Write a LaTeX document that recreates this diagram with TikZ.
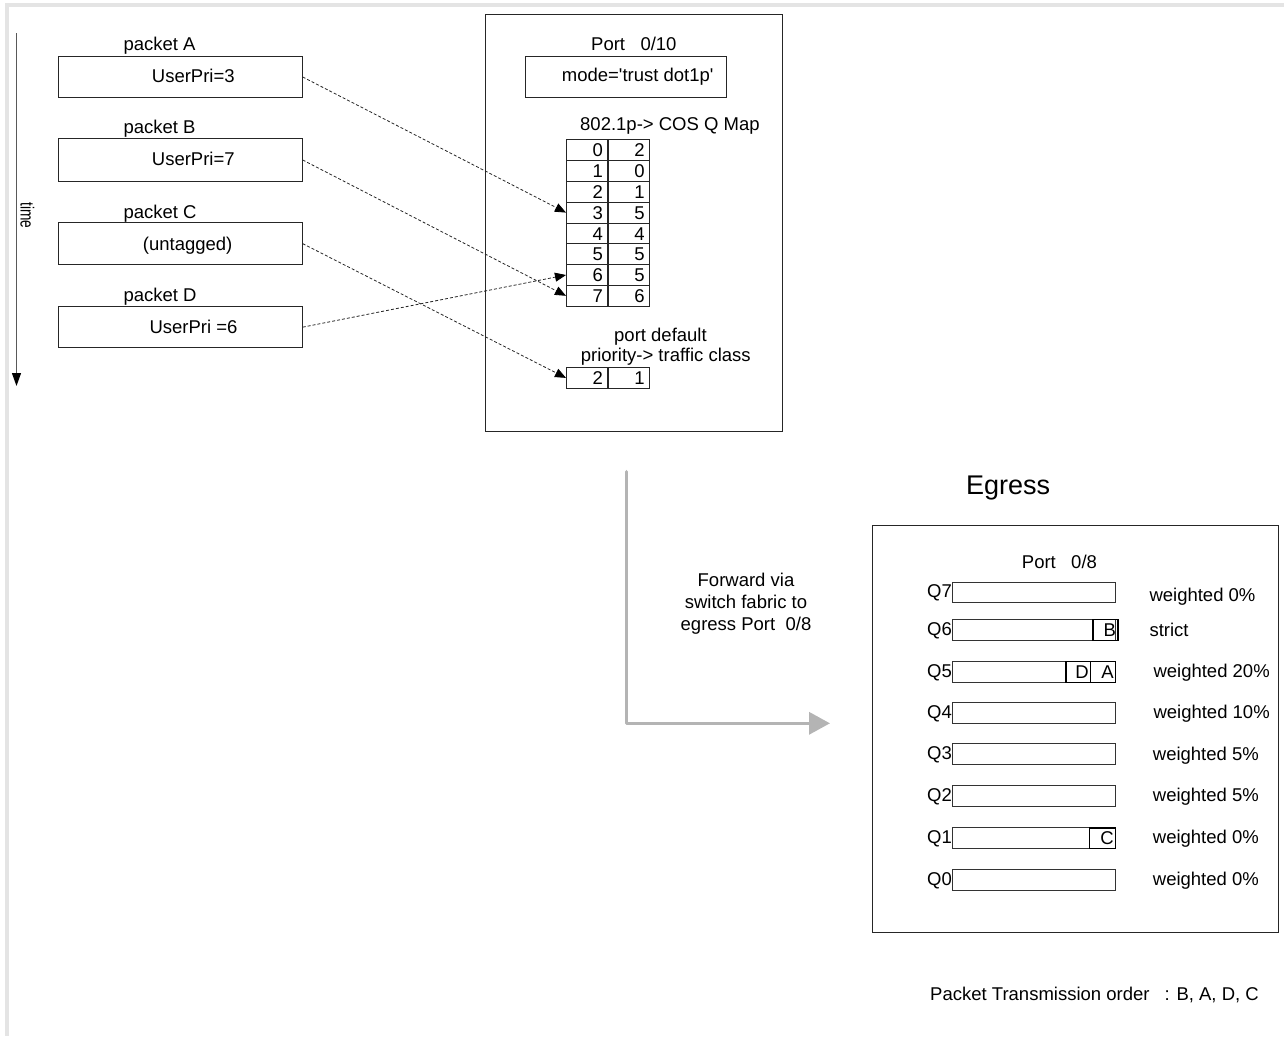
\documentclass[tikz,border=0pt]{standalone}
\usepackage{fontspec}
\setmainfont{Liberation Sans}[Ligatures=TeXOff]
\usetikzlibrary{arrows.meta}
\definecolor{garrow}{RGB}{180,180,180}
\definecolor{frame}{RGB}{228,228,228}
\begin{document}
\begin{tikzpicture}[x=1pt,y=-1pt,
  txt/.style={inner sep=0pt, font=\fontsize{18.5}{22}\selectfont},
  box/.style={draw=black!85, line width=1pt, inner sep=0pt},
  cell/.style={box, inner xsep=4.4pt, inner ysep=0pt, text width=32pt, align=right,
    minimum height=20.8pt, font=\fontsize{18.5}{22}\selectfont, text height=13.3pt, text depth=0pt},
  qbar/.style={draw=black!80, line width=0.9pt, inner sep=0pt, minimum width=163pt, minimum height=20.6pt, anchor=north west},
  qbox/.style={draw=black, line width=1.3pt, inner xsep=2pt, inner ysep=0pt, align=right,
    minimum height=20.6pt, font=\fontsize{18.5}{22}\selectfont, text height=13.3pt, text depth=0pt, anchor=north west},
  dasharrow/.style={draw=black!85, line width=0.8pt, dash pattern=on 3pt off 2pt,
    -{Triangle[length=11pt,width=9pt,color=black]}}
]
\useasboundingbox (0,0) rectangle (1284,1036);
% light frame
\draw[frame, line width=4pt] (6.5,1036) -- (6.5,5) -- (1284,5);

% time arrow
\coordinate (t0) at (16.5,33);
\coordinate (t1) at (16.5,386);
\draw[black!65, line width=1.2pt, -{Triangle[length=13pt,width=9pt,color=black]}] (t0) -- (t1);
\node[rotate=-90, inner sep=0pt, font=\fontsize{19}{22}\selectfont] (tl) at (27.5,215.5) {\scalebox{0.72}[1]{time}};

% packets
\node[box, minimum width=244pt, minimum height=41.6pt, anchor=north west] (pA) at (57.7,55.7) {};
\node[box, minimum width=244pt, minimum height=42.4pt, anchor=north west] (pB) at (57.7,138.3) {};
\node[box, minimum width=244pt, minimum height=41.7pt, anchor=north west] (pC) at (57.7,222.3) {};
\node[box, minimum width=244pt, minimum height=41.3pt, anchor=north west] (pD) at (57.7,306) {};
\node[txt, anchor=base west] (lA) at (123.3,50) {packet A};
\node[txt, anchor=base west] (lB) at (123.3,133.3) {packet B};
\node[txt, anchor=base west] (lC) at (123.3,218.3) {packet C};
\node[txt, anchor=base west] (lD) at (123.3,301.7) {packet D};
\node[txt, anchor=base west] (uA) at (151.7,82.7) {UserPri=3};
\node[txt, anchor=base west] (uB) at (151.7,165.7) {UserPri=7};
\node[txt, anchor=base west] (uC) at (142.7,250) {(untagged)};
\node[txt, anchor=base west] (uD) at (149.3,333.3) {UserPri =6};

% ingress port
\node[box, minimum width=297.3pt, minimum height=417pt, anchor=north west] (port) at (485,14) {};
\node[txt, anchor=base west] (portl) at (591,50.7) {Port\hspace{15.4pt}0/10};
\node[box, minimum width=201pt, minimum height=41.6pt, anchor=north west] (mode) at (525,55.7) {};
\node[txt, anchor=base west] (model) at (561.7,81.7) {mode='trust dot1p'};
\node[txt, anchor=base west] (mapl) at (580,130.5) {802.1p-> COS Q Map};
\foreach \a/\b [count=\i from 0] in {0/2,1/0,2/1,3/5,4/4,5/5,6/5,7/6} {
  \node[cell, anchor=north west] (k\i) at (566,{139.3+\i*20.8}) {\a};
  \node[cell, anchor=north west] (v\i) at (k\i.north east) {\b};
}
\node[txt, anchor=base west] (pdl) at (614,341.7) {port default};
\node[txt, anchor=base west] (pdl2) at (580.7,361.7) {priority-> traffic class};
\node[cell, anchor=north west, minimum height=21.6pt] (d1) at (566,366.6) {2};
\node[cell, anchor=north west, minimum height=21.6pt] (d2) at (d1.north east) {1};

% dashed mapping arrows
\draw[dasharrow] (pA.east) -- (k3.west);
\draw[dasharrow] (pB.east) -- (k7.west);
\draw[dasharrow] (pC.east) -- (d1.west);
\draw[dasharrow] (pD.east) -- (k6.west);

% forward arrow
\coordinate (g0) at (626.7,471.7);
\coordinate (g2) at (830,723.3);
\draw[garrow, line width=3.5pt, line cap=round, line join=round,
  -{Triangle[length=21pt,width=22pt]}] (g0) |- (g2);
\node[txt, align=center, anchor=base] (fw) at (746,630.7) {Forward via\\switch fabric to\\egress Port\ \ 0/8};

% egress
\node[inner sep=0pt, font=\fontsize{27}{32}\selectfont, anchor=base west] (eg) at (966,494.3) {Egress};
\node[box, minimum width=406pt, minimum height=406.7pt, anchor=north west] (egbox) at (871.7,525) {};
\node[txt, anchor=base west] (egp) at (1021.7,568.3) {Port\hspace{15.4pt}0/8};

\foreach \q/\top/\wx/\wy/\wt in {7/581.7/1149.3/601.7/weighted 0\%, 6/619/1149.3/636.7/strict,
  5/661/1153.3/677/weighted 20\%, 4/702.3/1153.3/718.3/weighted 10\%,
  3/743.3/1152.7/760.7/weighted 5\%, 2/785.3/1152.7/801.7/weighted 5\%,
  1/827.3/1152.7/843.3/weighted 0\%, 0/869/1152.7/885/weighted 0\%} {
  \node[qbar] (q\q) at (952,\top) {};
  \node[txt, anchor=base east] (ql\q) at (952,{\top+16}) {Q\q};
  \node[txt, anchor=base west] (qw\q) at (\wx,\wy) {\wt};
}
\node[qbox, text width=21pt] (bB) at (1092.3,619) {B};
\node[qbox, text width=20.7pt] (bD) at (1065.3,661) {D};
\node[qbox, text width=21pt] (bA) at (1090,661) {A};
\node[qbox, text width=22pt] (bC) at (1089,827.3) {C};

\node[txt, anchor=base west] (order) at (930,1000) {Packet Transmission order\hspace{15pt}: B, A, D, C};
\end{tikzpicture}
\end{document}
